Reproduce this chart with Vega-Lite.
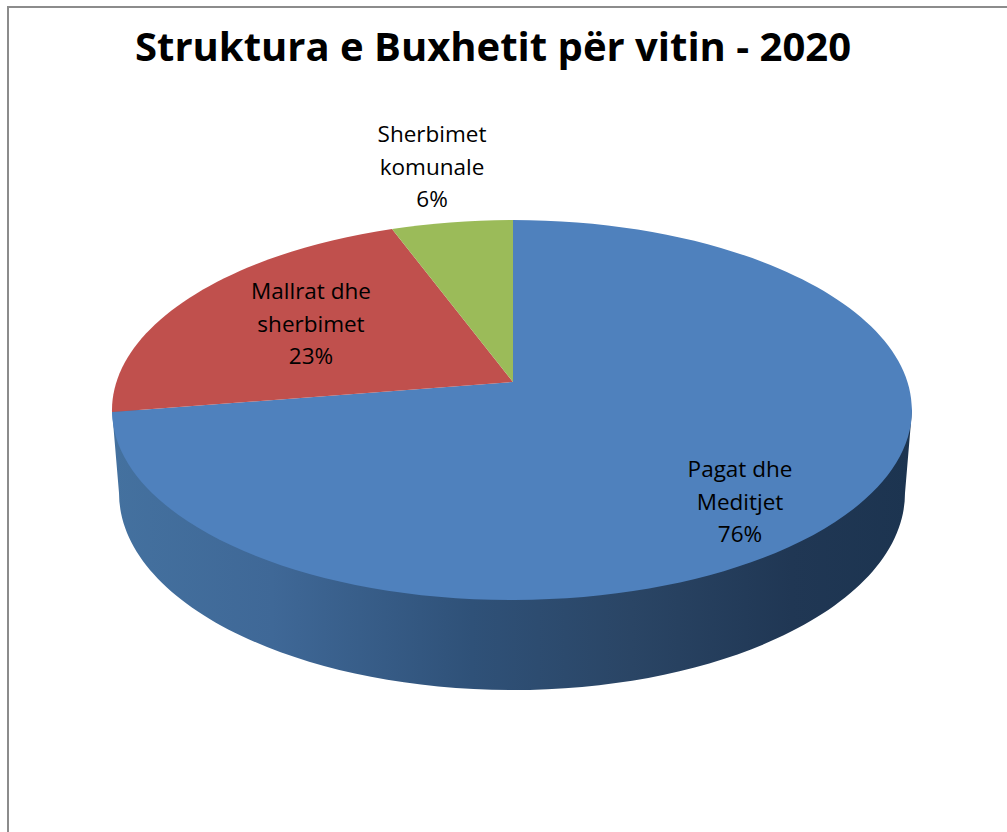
{
  "$schema": "https://vega.github.io/schema/vega-lite/v6.json",
  "autosize": {"type": "none"},
  "padding": {"left": 17, "right": 0, "top": 80, "bottom": 92},
  "width": 990,
  "height": 660,
  "background": "white",
  "view": {"stroke": null},
  "title": {"text": "Struktura e Buxhetit për vitin - 2020", "font": "Open Sans", "fontWeight": "bold", "fontSize": 40, "color": "#000000", "anchor": "middle", "offset": -98, "dx": -19, "baseline": "alphabetic"},
  "data": {"values": [
    {"zëri": "Pagat dhe Meditjet", "përqindja": 76, "etiketa": "Pagat dhe\nMeditjet\n76%"},
    {"zëri": "Mallrat dhe sherbimet", "përqindja": 23, "etiketa": "Mallrat dhe\nsherbimet\n23%"},
    {"zëri": "Sherbimet komunale", "përqindja": 6, "etiketa": "Sherbimet\nkomunale\n6%"}
  ]},
  "layer": [
    {
      "transform": [{"filter": "datum['përqindja'] == 76"}],
      "mark": {"type": "point", "filled": false, "size": 4, "stroke": "#8c8c8c", "strokeWidth": 2, "opacity": 1, "shape": "M-504,422L-504,-403L495,-403"},
      "encoding": {}
    },
    {
      "transform": [{"filter": "datum['përqindja'] == 76"}],
      "mark": {
        "type": "point", "filled": true, "size": 4, "opacity": 1, "strokeWidth": 0,
        "shape": "M-400,0L-393,83A393,197 0 0 0 393,83L400,0Z",
        "fill": {"gradient": "linear", "x1": 0, "y1": 0, "x2": 1, "y2": 0, "stops": [
          {"offset": 0, "color": "#44719f"},
          {"offset": 0.2, "color": "#3f6897"},
          {"offset": 0.45, "color": "#2f5178"},
          {"offset": 0.65, "color": "#2a4565"},
          {"offset": 0.85, "color": "#203754"},
          {"offset": 1, "color": "#1c3450"}
        ]}
      },
      "encoding": {}
    },
    {
      "mark": {"type": "point", "filled": true, "size": 4, "opacity": 1, "strokeWidth": 0},
      "encoding": {
        "shape": {"field": "zëri", "type": "nominal", "legend": null, "scale": {
          "domain": ["Pagat dhe Meditjet", "Mallrat dhe sherbimet", "Sherbimet komunale"],
          "range": [
            "M1,-28L1,-190A400,190 0 1 1 -400,2Z",
            "M1,-28L-400,2A400,190 0 0 1 -120,-181Z",
            "M1,-28L-120,-181A400,190 0 0 1 1,-190Z"
          ]}},
        "color": {"field": "zëri", "type": "nominal", "legend": null, "scale": {
          "domain": ["Pagat dhe Meditjet", "Mallrat dhe sherbimet", "Sherbimet komunale"],
          "range": ["#4f81bd", "#c0504d", "#9bbb59"]}}
      }
    },
    {
      "transform": [{"filter": "datum['përqindja'] == 76"}],
      "mark": {"type": "text", "font": "Open Sans", "fontSize": 22.5, "color": "#000000", "align": "center", "baseline": "middle", "lineBreak": "\n", "lineHeight": 32.5, "dx": 228, "dy": 60},
      "encoding": {"text": {"field": "etiketa"}}
    },
    {
      "transform": [{"filter": "datum['përqindja'] == 23"}],
      "mark": {"type": "text", "font": "Open Sans", "fontSize": 22.5, "color": "#000000", "align": "center", "baseline": "middle", "lineBreak": "\n", "lineHeight": 32.5, "dx": -201, "dy": -118},
      "encoding": {"text": {"field": "etiketa"}}
    },
    {
      "transform": [{"filter": "datum['përqindja'] == 6"}],
      "mark": {"type": "text", "font": "Open Sans", "fontSize": 22.5, "color": "#000000", "align": "center", "baseline": "middle", "lineBreak": "\n", "lineHeight": 32.5, "dx": -80, "dy": -275},
      "encoding": {"text": {"field": "etiketa"}}
    }
  ]
}
